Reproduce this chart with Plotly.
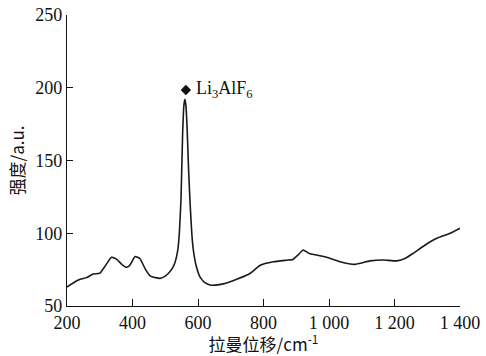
import plotly.graph_objects as go

# Raman shift (cm^-1) and intensity (a.u.)
shift = [200, 220, 240, 260, 280, 300, 315, 336, 352, 368, 382, 392, 408, 423,
         440, 455, 470, 484, 500, 512, 522, 530, 538, 543, 548, 553, 557, 560,
         563, 567, 571, 576, 581, 586, 594, 606, 621, 637, 660, 690, 720, 760,
         790, 830, 870, 890, 905, 921, 940, 962, 993, 1034, 1079, 1125, 1166,
         1207, 1235, 1257, 1298, 1329, 1370, 1400]
intensity = [63, 66, 68.3, 69.5, 72, 72.5, 77, 83.5, 82, 78.5, 76.6, 78, 84, 82.5,
             75, 70.5, 69.5, 69, 70.5, 73, 76, 80, 88, 100, 123, 168, 188, 192,
             188, 171, 145, 120, 100, 88, 78, 70, 66, 64.4, 64.5, 66, 68.5, 72.5,
             78, 80.4, 81.5, 82, 85, 88.5, 86, 85, 83.5, 80.4, 78.6, 81, 81.6,
             81, 83, 86.2, 92.6, 96.5, 100, 103.4]

x_ticks = [200, 400, 600, 800, 1000, 1200, 1400]
x_ticktext = ["200", "400", "600", "800", "1 000", "1 200", "1 400"]
y_ticks = [50, 100, 150, 200, 250]

peak_x = [563]
peak_y = [198.5]
peak_label = "Li<sub>3</sub>AlF<sub>6</sub>"

serif = "Liberation Serif"
cjk = "Noto Sans CJK SC"

fig = go.Figure()
fig.add_trace(go.Scatter(x=shift, y=intensity, mode="lines",
                         line=dict(color="#1a1a1a", width=1.6, shape="spline", smoothing=0.4),
                         showlegend=False, hoverinfo="skip"))
fig.add_trace(go.Scatter(x=peak_x, y=peak_y, mode="markers",
                         marker=dict(symbol="diamond", size=8, color="#111"),
                         showlegend=False, hoverinfo="skip"))
fig.add_annotation(x=peak_x[0], y=peak_y[0], text=peak_label, showarrow=False,
                   xanchor="left", yanchor="middle", xshift=8,
                   font=dict(family=serif, size=18, color="#111"))

fig.update_layout(
    width=486, height=356,
    margin=dict(l=67, r=26, t=15, b=50),
    paper_bgcolor="white", plot_bgcolor="white",
    font=dict(family=serif, size=18, color="#111"),
)
fig.update_xaxes(range=[200, 1400], tickvals=x_ticks, ticktext=x_ticktext,
                 ticks="inside", ticklen=7, tickwidth=1.2, tickcolor="#111",
                 showline=True, linecolor="#111", linewidth=1.4,
                 showgrid=False, zeroline=False, automargin=False,
                 tickfont=dict(family=serif, size=18, color="#111"),
                 title=dict(text="拉曼位移/cm<sup>-1</sup>",
                            font=dict(family=cjk, size=17, color="#111"),
                            standoff=0))
fig.update_yaxes(range=[50, 250], tickvals=y_ticks,
                 ticks="inside", ticklen=6, tickwidth=1.2, tickcolor="#111",
                 showline=True, linecolor="#111", linewidth=1.4,
                 showgrid=False, zeroline=False, automargin=False,
                 tickfont=dict(family=serif, size=18, color="#111"),
                 title=dict(text="强度/a.u.", font=dict(family=cjk, size=17, color="#111"),
                            standoff=6))

fig.write_html("out.html")
